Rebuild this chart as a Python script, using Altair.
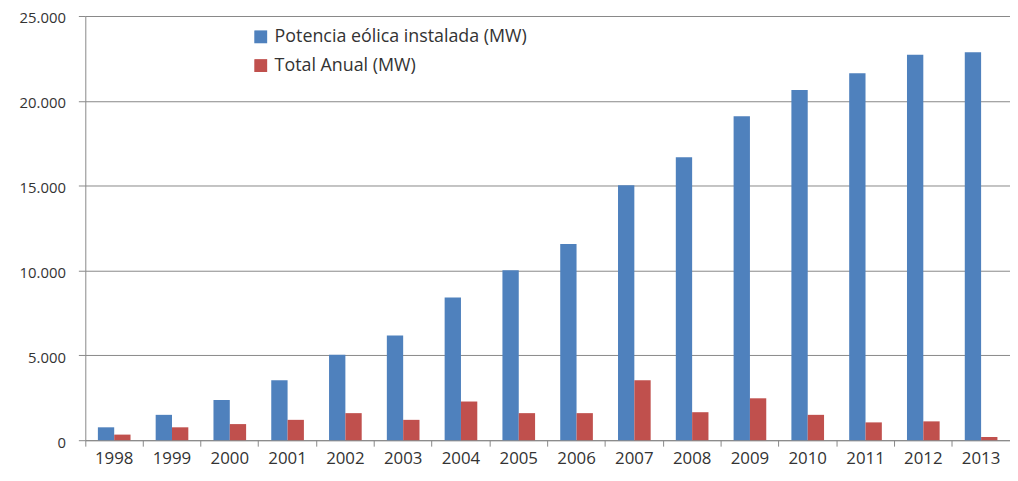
import altair as alt
import pandas as pd

years = ["1998", "1999", "2000", "2001", "2002", "2003", "2004", "2005",
         "2006", "2007", "2008", "2009", "2010", "2011", "2012", "2013"]
potencia = [760, 1495, 2370, 3540, 5040, 6170, 8410, 10010,
            11560, 15030, 16680, 19100, 20640, 21630, 22720, 22870]
total_anual = [330, 760, 950, 1200, 1595, 1200, 2280, 1595,
               1595, 3540, 1650, 2470, 1495, 1050, 1110, 190]

s1 = "Potencia eólica instalada (MW)"
s2 = "Total Anual (MW)"
series = [s1, s2]
colors = ["#4F81BD", "#C0504D"]

rows = []
for y, a, b in zip(years, potencia, total_anual):
    rows.append({"year": y, "serie": s1, "value": a})
    rows.append({"year": y, "serie": s2, "value": b})
df = pd.DataFrame(rows)

FONT = "Open Sans"

chart = alt.Chart(df).mark_bar().encode(
    x=alt.X("year:N", sort=years, title=None,
            scale=alt.Scale(paddingInner=0, paddingOuter=0),
            axis=alt.Axis(labelAngle=0, bandPosition=0,
                          tickSize=6, tickColor="#888", domainColor="#888",
                          labelFontSize=17, labelColor="#333", labelFont=FONT,
                          labelPadding=5, grid=False)),
    xOffset=alt.XOffset("serie:N", sort=series,
                        scale=alt.Scale(paddingOuter=0.77, paddingInner=0)),
    y=alt.Y("value:Q", title=None,
            scale=alt.Scale(domain=[0, 25000], nice=False),
            axis=alt.Axis(values=[0, 5000, 10000, 15000, 20000, 25000],
                          labelExpr="replace(format(datum.value, ','), ',', '.')",
                          tickSize=7, tickColor="#888", domainColor="#888",
                          gridColor="#888", gridWidth=1,
                          labelFontSize=15, labelColor="#333", labelFont=FONT,
                          labelPadding=13, labelOffset=2)),
    color=alt.Color("serie:N", sort=series,
                    scale=alt.Scale(domain=series, range=colors),
                    legend=alt.Legend(title=None, orient="none",
                                      legendX=168, legendY=12,
                                      symbolType="square", symbolSize=169,
                                      symbolStrokeWidth=0, symbolOpacity=1,
                                      labelFontSize=18, labelColor="#333",
                                      labelFont=FONT, rowPadding=11,
                                      labelOffset=5, labelLimit=0)),
).properties(
    width=933, height=428,
    autosize=alt.AutoSizeParams(type="none"),
    padding={"left": 78, "top": 6, "right": 0, "bottom": 31},
).configure_view(stroke=None)

chart.save("out.html", embed_options={"renderer": "svg", "actions": False})
